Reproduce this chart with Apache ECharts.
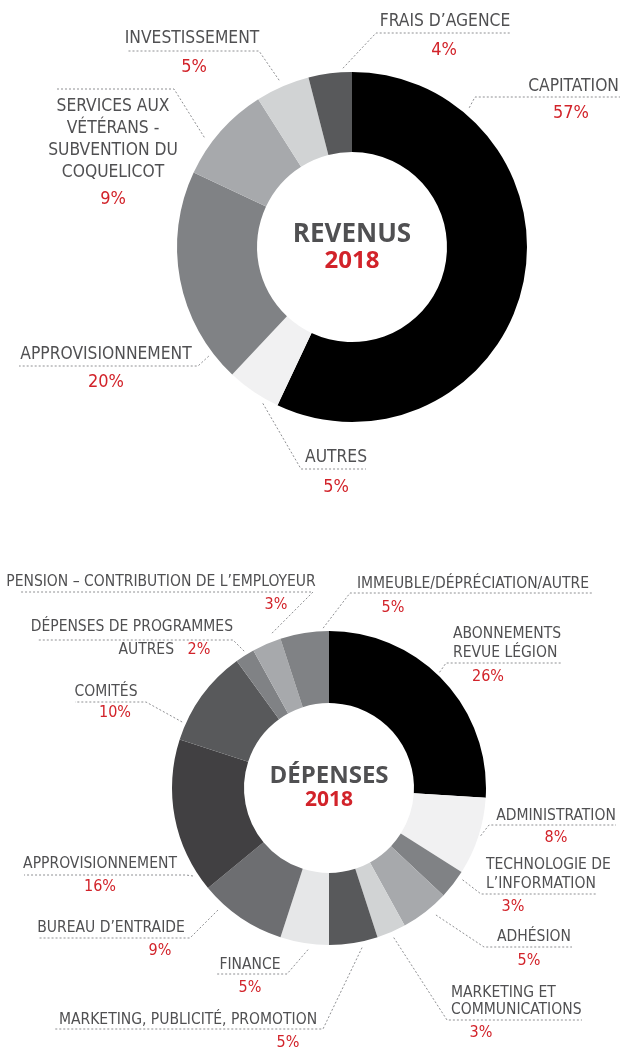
<!DOCTYPE html>
<html>
<head>
<meta charset="utf-8">
<style>
  html, body { margin: 0; padding: 0; background: #ffffff; }
  #chart { width: 621px; height: 1049px; }
</style>
<script src="https://cdn.jsdelivr.net/npm/echarts@6/dist/echarts.min.js"></script>
</head>
<body>
<div id="chart"></div>
<script>
// ---- Revenus 2018 (clockwise from 12 o'clock) ----
const revenueNames = [
  'CAPITATION',
  'AUTRES',
  'APPROVISIONNEMENT',
  'SERVICES AUX\nVÉTÉRANS -\nSUBVENTION DU\nCOQUELICOT',
  'INVESTISSEMENT',
  'FRAIS D’AGENCE'
];
const revenueValues = [57, 5, 20, 9, 5, 4];
const revenueColors = ['#000000', '#f1f1f2', '#808285', '#a7a9ac', '#d1d3d4', '#58595b'];

// ---- Dépenses 2018 (clockwise from 12 o'clock) ----
const expenseNames = [
  'ABONNEMENTS\nREVUE LÉGION',
  'ADMINISTRATION',
  'TECHNOLOGIE DE\nL’INFORMATION',
  'ADHÉSION',
  'MARKETING ET\nCOMMUNICATIONS',
  'MARKETING, PUBLICITÉ, PROMOTION',
  'FINANCE',
  'BUREAU D’ENTRAIDE',
  'APPROVISIONNEMENT',
  'COMITÉS',
  'DÉPENSES DE PROGRAMMES\nAUTRES',
  'PENSION – CONTRIBUTION DE L’EMPLOYEUR',
  'IMMEUBLE/DÉPRÉCIATION/AUTRE'
];
const expenseValues = [26, 8, 3, 5, 3, 5, 5, 9, 16, 10, 2, 3, 5];
const expenseColors = ['#000000', '#f1f1f2', '#808285', '#a7a9ac', '#d1d3d4', '#58595b',
                       '#e6e7e8', '#6d6e71', '#414042', '#58595b', '#808285', '#a7a9ac', '#808285'];

const titles = [
  { main: 'REVENUS', year: '2018' },
  { main: 'DÉPENSES', year: '2018' }
];

// ---- Layout: ring geometry and type sizes ----
const ringTop = { cx: 352, cy: 247, r0: 95, r1: 175, nameSize: 17.3, pctSize: 18,
                  titleSize: 26, yearSize: 24, titleY: 235, yearY: 261 };
const ringBottom = { cx: 329, cy: 788, r0: 85, r1: 157, nameSize: 15.5, pctSize: 16,
                     titleSize: 24, yearSize: 21, titleY: 776, yearY: 800 };

// Label layout per slice:
// name: [x, y, align]   pct: [x, y]   lh: line height of multi-line names
// lead: [angle°, radius] where the leader leaves the ring, bend/end: the underline
// gapLast: blank space kept after the last name line
const revenueLayout = [
  { name: [619, 87, 'right'],   pct: [571, 113], lead: [40.1, 182],  bend: [475, 97],  end: [620, 97] },
  { name: [336, 458, 'center'], pct: [336, 487], lead: [209.7, 180], bend: [301, 469], end: [366, 469] },
  { name: [106, 355, 'center'], pct: [106, 382], lead: [232.7, 180], bend: [198, 366], end: [19, 366] },
  { name: [113, 139.5, 'center'], pct: [113, 199], lead: [306.6, 184], bend: [174, 89], end: [57, 89], lh: 21.7 },
  { name: [192, 39, 'center'],  pct: [194, 67],  lead: [336.4, 182], bend: [259, 51],  end: [127, 51] },
  { name: [445, 22, 'center'],  pct: [444, 50],  lead: [357.1, 179], bend: [376, 33],  end: [510, 33] }
];

const expenseLayout = [
  { name: [453, 643.5, 'left'],  pct: [488, 677],  lead: [43.7, 160],  bend: [446, 663],  end: [562, 663], lh: 19 },
  { name: [556, 816, 'center'],  pct: [556, 838],  lead: [107.5, 159], bend: [489, 825],  end: [616, 825] },
  { name: [486, 874.5, 'left'],  pct: [513, 907],  lead: [124.5, 162], bend: [481, 894],  end: [596, 894], lh: 19 },
  { name: [534, 937, 'center'],  pct: [529, 961],  lead: [139.9, 166], bend: [484, 947],  end: [572, 947] },
  { name: [451, 1001.5, 'left'], pct: [481, 1033], lead: [156.6, 163], bend: [447, 1020], end: [582, 1020], lh: 17 },
  { name: [188, 1020, 'center'], pct: [288, 1043], lead: [168.3, 163], bend: [323, 1029], end: [55, 1029] },
  { name: [250, 965, 'center'],  pct: [250, 988],  lead: [187.4, 163], bend: [287, 974],  end: [217, 974] },
  { name: [111, 928, 'center'],  pct: [160, 951],  lead: [222.3, 165], bend: [190, 938],  end: [38, 938] },
  { name: [100, 864, 'center'],  pct: [100, 887],  lead: [237.1, 162], bend: [186, 875],  end: [24, 875] },
  { name: [106, 692, 'center'],  pct: [115, 713],  lead: [294.2, 161], bend: [146, 702],  end: [75, 702] },
  { name: [233, 638.5, 'right'], pct: [199, 650],  lead: [328.2, 161], bend: [233, 640],  end: [37, 640], lh: 23, gapLast: 59 },
  { name: [161, 582, 'center'],  pct: [276, 605],  lead: [339.8, 165], bend: [313, 592],  end: [21, 592] },
  { name: [473, 584, 'center'],  pct: [393, 608],  lead: [357.9, 160], bend: [350, 593],  end: [592, 593] }
];

const LABEL_FONT = "'Liberation Sans Narrow', 'DejaVu Sans Condensed', 'Arial Narrow', sans-serif";
const TITLE_FONT = "'Open Sans', 'Noto Sans', sans-serif";
const GREY_TEXT = '#505052';
const RED = '#d2232a';

function pieData(names, values, colors) {
  return names.map((n, i) => ({ name: n, value: values[i], itemStyle: { color: colors[i] } }));
}

// one rich style per slice so each name block keeps its own line height
function nameRich(ring, layout) {
  const rich = {};
  layout.forEach((L, i) => {
    rich['n' + i] = { fontFamily: LABEL_FONT, fontSize: ring.nameSize, color: GREY_TEXT, lineHeight: L.lh || 20 };
    rich['g' + i] = { fontSize: ring.nameSize, lineHeight: L.lh || 20, width: L.gapLast || 0 };
  });
  return rich;
}

function nameFormatter(layout) {
  return function (p) {
    const i = p.dataIndex;
    const L = layout[i];
    const lines = p.name.split('\n');
    return lines.map((ln, k) => {
      const last = k === lines.length - 1;
      return '{n' + i + '|' + ln + '}' + ((last && L.gapLast) ? '{g' + i + '| }' : '');
    }).join('\n');
  };
}

function nameSeries(ring, names, values, colors, layout) {
  return {
    type: 'pie',
    center: [ring.cx, ring.cy],
    radius: [ring.r0, ring.r1],
    startAngle: 90,
    clockwise: true,
    avoidLabelOverlap: false,
    silent: true,
    emphasis: { disabled: true },
    itemStyle: { borderWidth: 0 },
    data: pieData(names, values, colors),
    label: {
      show: true,
      position: 'outside',
      formatter: nameFormatter(layout),
      rich: nameRich(ring, layout)
    },
    labelLine: {
      show: true,
      length: 10,
      length2: 10,
      smooth: false,
      lineStyle: { color: '#8f9093', width: 1, type: [2, 2] }
    },
    labelLayout: function (params) {
      const L = layout[params.dataIndex];
      const a = L.lead[0] * Math.PI / 180;
      const start = [ring.cx + L.lead[1] * Math.sin(a), ring.cy - L.lead[1] * Math.cos(a)];
      return {
        x: L.name[0],
        y: L.name[1],
        align: L.name[2],
        verticalAlign: 'middle',
        labelLinePoints: [start, L.bend, L.end]
      };
    }
  };
}

function pctSeries(ring, names, values, layout) {
  return {
    type: 'pie',
    center: [ring.cx, ring.cy],
    radius: [ring.r0, ring.r1],
    startAngle: 90,
    clockwise: true,
    avoidLabelOverlap: false,
    silent: true,
    emphasis: { disabled: true },
    itemStyle: { color: 'rgba(0,0,0,0)', borderWidth: 0 },
    data: names.map((n, i) => ({ name: n, value: values[i] })),
    label: {
      show: true,
      position: 'outside',
      formatter: p => p.value + '%',
      fontFamily: LABEL_FONT,
      fontSize: ring.pctSize,
      color: RED
    },
    labelLine: { show: false },
    labelLayout: function (params) {
      const L = layout[params.dataIndex];
      return { x: L.pct[0], y: L.pct[1], align: 'center', verticalAlign: 'middle' };
    }
  };
}

function centreTitle(ring, t) {
  return [
    {
      type: 'text', x: ring.cx, y: ring.titleY, silent: true,
      style: { text: t.main, fill: GREY_TEXT, font: '700 ' + ring.titleSize + 'px ' + TITLE_FONT,
               textAlign: 'center', textVerticalAlign: 'middle' }
    },
    {
      type: 'text', x: ring.cx, y: ring.yearY, silent: true,
      style: { text: t.year, fill: RED, font: '700 ' + ring.yearSize + 'px ' + TITLE_FONT,
               textAlign: 'center', textVerticalAlign: 'middle' }
    }
  ];
}

const chart = echarts.init(document.getElementById('chart'), null, { renderer: 'canvas' });
chart.setOption({
  backgroundColor: '#ffffff',
  animation: false,
  graphic: [].concat(centreTitle(ringTop, titles[0]), centreTitle(ringBottom, titles[1])),
  series: [
    nameSeries(ringTop, revenueNames, revenueValues, revenueColors, revenueLayout),
    pctSeries(ringTop, revenueNames, revenueValues, revenueLayout),
    nameSeries(ringBottom, expenseNames, expenseValues, expenseColors, expenseLayout),
    pctSeries(ringBottom, expenseNames, expenseValues, expenseLayout)
  ]
});
</script>
</body>
</html>
